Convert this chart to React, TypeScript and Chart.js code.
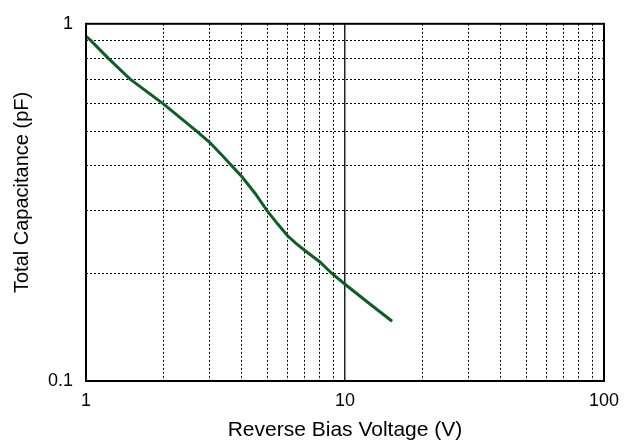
import React, { useEffect, useRef } from "react";
import { Chart, registerables } from "chart.js";

Chart.register(...registerables);

const voltage = [1, 1.04, 1.22, 1.48, 2, 2.68, 3, 3.4, 3.66, 4, 4.5, 5, 5.5, 6, 6.5, 7, 8, 8.9, 10, 12.55, 15.2];
const capacitance = [0.922, 0.9, 0.8, 0.7, 0.595, 0.5, 0.466, 0.424, 0.4, 0.373, 0.335, 0.3, 0.275, 0.255, 0.242, 0.232, 0.2154, 0.2, 0.1866, 0.1637, 0.147];

const xTickValues = [1, 2, 3, 4, 5, 6, 7, 8, 9, 10, 20, 30, 40, 50, 60, 70, 80, 90, 100];
const yTickValues = [0.1, 0.2, 0.3, 0.4, 0.5, 0.6, 0.7, 0.8, 0.9, 1];
const xLabels = ["1", "10", "100"];
const yLabels = ["0.1", "1"];

const isDecade = (v: number) => Math.abs(Math.log10(v) - Math.round(Math.log10(v))) < 1e-6;

const framePlugin = {
  id: "frame",
  afterDatasetsDraw(chart: any) {
    const { ctx, chartArea } = chart;
    ctx.save();
    ctx.strokeStyle = "#000";
    ctx.lineWidth = 2;
    ctx.strokeRect(chartArea.left, chartArea.top, chartArea.right - chartArea.left, chartArea.bottom - chartArea.top);
    ctx.restore();
  },
};

export default function App() {
  const ref = useRef<HTMLCanvasElement | null>(null);
  useEffect(() => {
    if (!ref.current) return;
    const font = "'Liberation Sans', Arial, sans-serif";
    const isTen = (c: any) => c.tick && Math.abs(c.tick.value - 10) < 1e-6;
    const chart = new Chart(ref.current, {
      type: "line",
      data: {
        datasets: [
          {
            data: voltage.map((v, i) => ({ x: v, y: capacitance[i] })),
            borderColor: "#0e5e25",
            borderWidth: 3,
            pointRadius: 0,
            tension: 0,
            fill: false,
          },
        ],
      },
      options: {
        animation: false,
        responsive: false,
        layout: { padding: { left: 0, top: 18, right: 29, bottom: 0 } },
        plugins: { legend: { display: false }, tooltip: { enabled: false } },
        scales: {
          x: {
            type: "logarithmic",
            min: 1,
            max: 100,
            afterBuildTicks: (s: any) => {
              s.ticks = xTickValues.map((v) => ({ value: v, major: isDecade(v) }));
            },
            afterFit: (s: any) => {
              s.height = 62;
            },
            grid: {
              color: (c: any) => (isTen(c) ? "#222" : "#000"),
              lineWidth: (c: any) => (isTen(c) ? 1.5 : 1),
              drawTicks: false,
            },
            border: {
              display: false,
              dash: (c: any) => (isTen(c) ? [] : [2, 2]),
            },
            ticks: {
              autoSkip: false,
              maxRotation: 0,
              padding: 9,
              color: "#000",
              font: { family: font, size: 18 },
              callback: (v: any) => {
                const n = Number(v);
                if (!isDecade(n)) return "";
                const lbl = String(Math.round(n));
                return xLabels.includes(lbl) ? lbl : "";
              },
            },
            title: {
              display: true,
              text: "Reverse Bias Voltage (V)",
              color: "#000",
              font: { family: font, size: 21 },
              padding: { top: 0, bottom: 0 },
            },
          },
          y: {
            type: "logarithmic",
            min: 0.1,
            max: 1,
            afterBuildTicks: (s: any) => {
              s.ticks = yTickValues.map((v) => ({ value: v, major: isDecade(v) }));
            },
            afterFit: (s: any) => {
              s.width = 86;
            },
            grid: {
              color: "#000",
              lineWidth: 1,
              drawTicks: false,
            },
            border: { display: false, dash: [2, 2] },
            ticks: {
              autoSkip: false,
              padding: 13,
              color: "#000",
              font: { family: font, size: 18 },
              callback: (v: any) => {
                const n = Number(v);
                if (!isDecade(n)) return "";
                const lbl = n >= 1 ? "1" : "0.1";
                return yLabels.includes(lbl) ? lbl : "";
              },
            },
            title: {
              display: true,
              text: "\u2002\u2002Total Capacitance (pF)",
              color: "#000",
              font: { family: font, size: 20 },
              padding: { top: 10, bottom: 0 },
            },
          },
        },
      },
      plugins: [framePlugin],
    });
    return () => chart.destroy();
  }, []);
  return (
    <div style={{ position: "fixed", left: 0, top: 0, width: 633, height: 443, background: "#fff" }}>
      <canvas ref={ref} width={633} height={443} style={{ width: 633, height: 443 }} />
    </div>
  );
}
